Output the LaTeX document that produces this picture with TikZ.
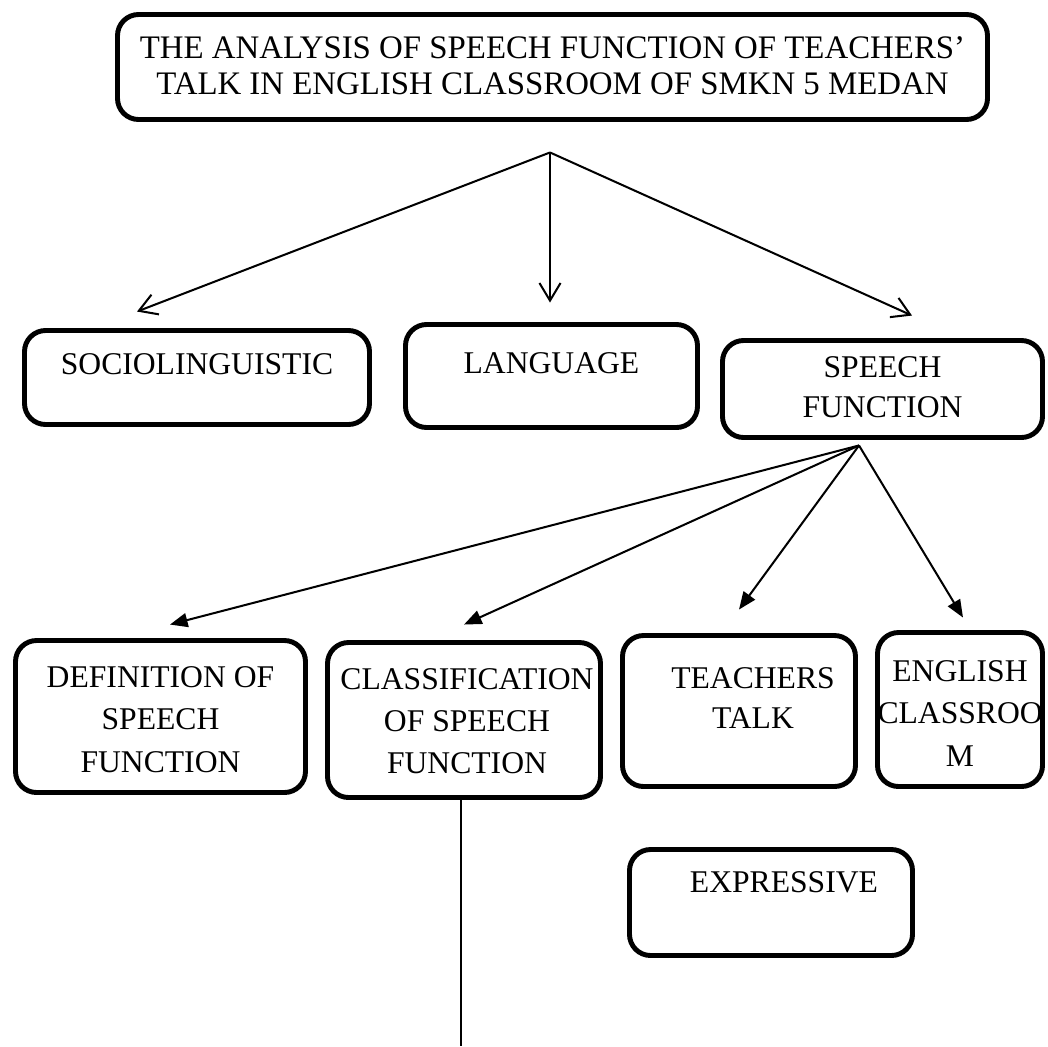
\documentclass[tikz,border=0pt]{standalone}
\usepackage{fontspec}
\setmainfont{Liberation Serif}
\usetikzlibrary{arrows.meta,calc}
\newlength\pxu \setlength\pxu{0.02cm}
\def\boxfs{18}
\newcommand{\boxtext}[6]{\parbox[c][#2\pxu][t]{#1\pxu}{\fontsize{\boxfs}{#5\pxu}\selectfont\centering
    \leftskip=\dimexpr #4\pxu*2\relax plus 1fil \hyphenpenalty=10000
    \vspace*{#3\pxu}#6}}
\tikzset{
  topic/.style={draw, line width=2.8pt, rounded corners=12pt, inner sep=0pt},
  branch/.style={line width=1.15pt, -{Straight Barb[length=10pt,width=12pt]}},
  sub/.style={line width=1.15pt, -{Triangle[length=10pt,width=8pt]}}
}
\begin{document}
\begin{tikzpicture}[x=0.02cm,y=-0.02cm]
    \useasboundingbox (0,0) rectangle (1048,1046);

    \node[topic] (title) at (552.5,67) {\def\boxfs{18.7}\boxtext{870}{105}{22}{0}{36}{THE ANALYSIS OF SPEECH FUNCTION OF TEACHERS’\\TALK IN ENGLISH CLASSROOM OF SMKN 5 MEDAN}};

    \node[topic] (socio) at (197,377.5) {\boxtext{345}{94}{23}{0}{40}{SOCIOLINGUISTIC}};
    \node[topic] (language) at (551.5,376) {\boxtext{292}{103}{28}{0}{40}{LANGUAGE}};
    \node[topic] (speech) at (882.5,389) {\boxtext{320}{97}{16}{0}{40}{SPEECH\\FUNCTION}};

    \node[topic] (definition) at (160.5,716.5) {\boxtext{290}{152}{26}{0}{42.5}{DEFINITION OF\\SPEECH\\FUNCTION}};
    \node[topic] (classification) at (464,720) {\boxtext{273}{155}{26}{3}{42}{CLASSIFICATION\\OF SPEECH\\FUNCTION}};
    \node[topic] (teachers) at (739,711) {\boxtext{233}{151}{32}{14}{40}{TEACHERS\\TALK}};
    \node[topic] (english) at (960,709.5) {\boxtext{165}{154}{28}{0}{42.5}{ENGLISH\\CLASSROO\\M}};
    \node[topic] (expressive) at (771,902.5) {\boxtext{283}{106}{22}{13}{40}{EXPRESSIVE}};

    \coordinate (hub) at ($(title.south)+(-2.5,30.5)$);
    \draw[branch] (hub) -- ($(socio.north)+(-60,-16.5)$);
    \draw[branch] (hub) -- ($(language.north)+(-1.5,-19.5)$);
    \draw[branch] (hub) -- ($(speech.north)+(29.5,-22.5)$);

    \coordinate (sfhub) at ($(speech.south)+(-23.5,5.5)$);
    \draw[sub] (sfhub) -- ($(definition.north)+(9.5,-13.5)$);
    \draw[sub] (sfhub) -- ($(classification.north)+(0,-15.5)$);
    \draw[sub] (sfhub) -- ($(teachers.north)+(0,-23.5)$);
    \draw[sub] (sfhub) -- ($(english.north)+(3,-12.5)$);

    \coordinate (lineEnd) at (461,1046);
    \draw[line width=1pt] ($(classification.south)+(-3,0)$) -- (lineEnd);
\end{tikzpicture}
\end{document}
